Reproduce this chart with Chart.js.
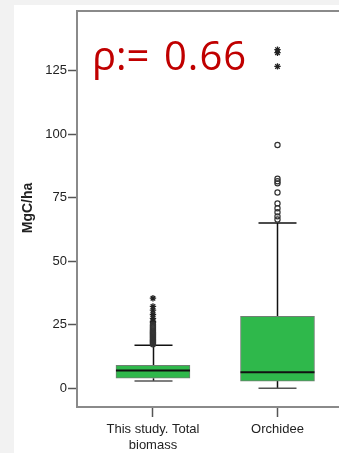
<!DOCTYPE html>
<html>
<head>
<meta charset="utf-8">
<script src="https://cdn.jsdelivr.net/npm/chart.js@4.4.1/dist/chart.umd.min.js"></script>
<style>
  html, body { margin: 0; padding: 0; background: #f2f2f2; overflow: hidden; }
  #wrap { position: relative; width: 339px; height: 453px; overflow: hidden; }
</style>
</head>
<body>
<div id="wrap"><canvas id="myChart" width="360" height="453"></canvas></div>
<script>
// box plot numbers (MgC/ha)
const categories = [['This study. Total', 'biomass'], ['Orchidee']];
const positions = [1, 2];
const q1 = [3.9, 2.8];
const median = [7.0, 6.3];
const q3 = [9.0, 28.3];
const whiskerLow = [2.8, 0];
const whiskerHigh = [16.9, 65];
const outlierCircles = [
  [17.3, 17.8, 18.2, 18.6, 19.0, 19.4, 19.8, 20.2, 20.6, 21.0, 21.4, 21.8, 22.2, 22.7, 23.2, 23.8, 24.4, 25.0],
  [66.4, 67.6, 69.2, 70.8, 72.7, 77.0, 80.6, 81.4, 82.4, 95.7]
];
const outlierStars = [
  [25.8, 26.3, 27.5, 29.0, 30.7, 32.2, 35.4],
  [126.6, 132.0, 133.2]
];
const yTicks = [0, 25, 50, 75, 100, 125];
const rhoParts = ['ρ:=', '0.66'];

const circlePts = [];
const starPts = [];
positions.forEach((p, i) => {
  outlierCircles[i].forEach(v => circlePts.push({ x: p, y: v }));
  outlierStars[i].forEach(v => starPts.push({ x: p, y: v }));
});

const boxPlugin = {
  id: 'boxExtras',
  beforeDraw(chart) {
    const c = chart.ctx;
    c.save();
    c.fillStyle = '#ffffff';
    c.fillRect(14, 5, chart.width - 14, chart.height - 5);
    c.restore();
  },
  beforeDatasetsDraw(chart) {
    const c = chart.ctx;
    const xs = chart.scales.x, ys = chart.scales.y;
    c.save();
    c.strokeStyle = '#111';
    c.lineWidth = 1.5;
    positions.forEach((p, i) => {
      const x = Math.round(xs.getPixelForValue(p)) + 0.5;
      const half = 19;
      // whiskers
      c.beginPath();
      c.moveTo(x, ys.getPixelForValue(q3[i]));
      c.lineTo(x, ys.getPixelForValue(whiskerHigh[i]));
      c.moveTo(x, ys.getPixelForValue(q1[i]));
      c.lineTo(x, ys.getPixelForValue(whiskerLow[i]));
      c.stroke();
      c.beginPath();
      c.moveTo(x - half, ys.getPixelForValue(whiskerHigh[i]));
      c.lineTo(x + half, ys.getPixelForValue(whiskerHigh[i]));
      c.stroke();
      c.strokeStyle = '#555';
      c.beginPath();
      c.moveTo(x - half, ys.getPixelForValue(whiskerLow[i]));
      c.lineTo(x + half, ys.getPixelForValue(whiskerLow[i]));
      c.stroke();
      c.strokeStyle = '#111';
    });
    c.restore();
  },
  afterDatasetDraw(chart, args) {
    if (args.index !== 0) return;
    const c = chart.ctx;
    const ys = chart.scales.y;
    c.save();
    c.strokeStyle = '#111';
    c.lineWidth = 2;
    chart.getDatasetMeta(0).data.forEach((bar, i) => {
      const y = ys.getPixelForValue(median[i]);
      c.beginPath();
      c.moveTo(bar.x - bar.width / 2, y);
      c.lineTo(bar.x + bar.width / 2, y);
      c.stroke();
    });
    c.restore();
  },
  afterDraw(chart) {
    const c = chart.ctx;
    const a = chart.chartArea;
    c.save();
    // top frame line
    c.strokeStyle = '#8a8a8a';
    c.lineWidth = 2;
    c.beginPath();
    c.moveTo(a.left, a.top);
    c.lineTo(a.right, a.top);
    c.stroke();
    // axis title
    c.fillStyle = '#222';
    c.font = 'bold 14px "Liberation Sans", Arial, sans-serif';
    c.textAlign = 'center';
    c.textBaseline = 'middle';
    c.translate(28, 208);
    c.rotate(-Math.PI / 2);
    c.fillText('MgC/ha', 0, 0);
    c.restore();
    // rho annotation
    c.save();
    c.fillStyle = '#c00000';
    c.font = '40px "Open Sans", sans-serif';
    c.textBaseline = 'alphabetic';
    c.fillText(rhoParts[0], 92, 70);
    c.letterSpacing = '1px';
    c.fillText(rhoParts[1], 164, 70);
    c.restore();
  }
};

const ctx = document.getElementById('myChart').getContext('2d');
const myChart = new Chart(ctx, {
  type: 'bar',
  data: {
    datasets: [{
      label: 'box',
      data: positions.map((p, i) => ({ x: p, y: [q1[i], q3[i]] })),
      backgroundColor: '#2fb84b',
      borderColor: '#6f7f72',
      borderWidth: 1,
      borderSkipped: false,
      barThickness: 74
    }, {
      type: 'scatter',
      label: 'outliers',
      data: circlePts,
      pointStyle: 'circle',
      pointRadius: 2.6,
      backgroundColor: 'rgba(255,255,255,0)',
      borderColor: '#333',
      borderWidth: 1.2
    }, {
      type: 'scatter',
      label: 'extremes',
      data: starPts,
      pointStyle: 'star',
      pointRadius: 3.2,
      borderColor: '#222',
      borderWidth: 1.3
    }]
  },
  options: {
    responsive: false,
    animation: false,
    layout: { padding: { top: 11, right: 0, left: 0, bottom: 0 } },
    plugins: { legend: { display: false }, tooltip: { enabled: false } },
    scales: {
      x: {
        type: 'linear',
        offset: false,
        min: 0.39,
        max: 2.62,
        afterBuildTicks: s => { s.ticks = positions.map(v => ({ value: v })); },
        afterFit: s => { s.height = 46; },
        grid: { offset: false, drawOnChartArea: false, tickLength: 10, color: '#555', tickWidth: 1.5 },
        border: { color: '#8a8a8a', width: 2 },
        ticks: {
          padding: 5,
          maxRotation: 0,
          autoSkip: false,
          color: '#222',
          font: { family: '"Liberation Sans", Arial, sans-serif', size: 13 },
          callback: v => categories[positions.indexOf(v)]
        }
      },
      y: {
        min: -7.4,
        max: 148.4,
        afterBuildTicks: s => { s.ticks = yTicks.map(v => ({ value: v })); },
        afterFit: s => { s.width = 77; },
        grid: { drawOnChartArea: false, tickLength: 9, color: '#555', tickWidth: 1.5 },
        border: { color: '#8a8a8a', width: 2 },
        ticks: {
          padding: 1,
          color: '#222',
          font: { family: '"Liberation Sans", Arial, sans-serif', size: 13 }
        }
      }
    }
  },
  plugins: [boxPlugin]
});
</script>
</body>
</html>
